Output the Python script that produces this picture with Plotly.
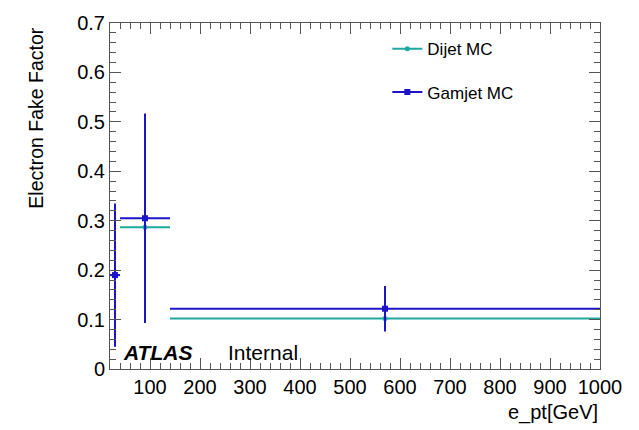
import plotly.graph_objects as go

# ---- data ----
bin_low = [20, 40, 140]
bin_high = [40, 140, 1000]
dijet_ff = [0.19, 0.287, 0.102]
dijet_err = [0.10, 0.12, 0.02]
gamjet_ff = [0.19, 0.305, 0.122]
gamjet_err = [0.145, 0.212, 0.046]
x_ticks = [100, 200, 300, 400, 500, 600, 700, 800, 900, 1000]

bin_center = [(lo + hi) / 2 for lo, hi in zip(bin_low, bin_high)]
bin_half = [(hi - lo) / 2 for lo, hi in zip(bin_low, bin_high)]

TEAL = "#1fa8a0"
BLUE = "#1c14c8"
FONT = "Liberation Sans"
AX = "#555555"

fig = go.Figure()

fig.add_trace(go.Scatter(
    x=bin_center, y=dijet_ff, mode="markers", showlegend=False,
    marker=dict(color=TEAL, size=5, symbol="circle"),
    error_x=dict(type="data", array=bin_half, color=TEAL, thickness=2, width=0),
    error_y=dict(type="data", array=dijet_err, color=TEAL, thickness=2, width=0),
))
fig.add_trace(go.Scatter(
    x=bin_center, y=gamjet_ff, mode="markers", showlegend=False,
    marker=dict(color=BLUE, size=6, symbol="square"),
    error_x=dict(type="data", array=bin_half, color=BLUE, thickness=2, width=0),
    error_y=dict(type="data", array=gamjet_err, color=BLUE, thickness=2, width=0),
))

# legend entries
fig.add_trace(go.Scatter(
    x=[None], y=[None], mode="lines+markers", name="Dijet MC", legendgroup="a",
    line=dict(color=TEAL, width=2), marker=dict(color=TEAL, size=5, symbol="circle"),
))
fig.add_trace(go.Scatter(
    x=[None], y=[None], mode="lines+markers", name="Gamjet MC", legendgroup="b",
    line=dict(color=BLUE, width=2), marker=dict(color=BLUE, size=6, symbol="square"),
))

axis_common = dict(
    showline=True, linecolor=AX, linewidth=1, mirror="allticks",
    ticks="inside", tickcolor=AX, showgrid=False, zeroline=False,
    tickfont=dict(family=FONT, size=20, color="black"),
)

fig.update_layout(
    width=639, height=430,
    margin=dict(l=110, r=39, t=14, b=61),
    paper_bgcolor="white", plot_bgcolor="white",
    font=dict(family=FONT, color="black"),
    xaxis=dict(range=[20, 1000], tickvals=x_ticks, ticklen=11,
               minor=dict(ticks="inside", ticklen=6, dtick=20, tick0=0, tickcolor=AX),
               **axis_common),
    yaxis=dict(range=[0, 0.7], dtick=0.1, tick0=0, ticklen=11,
               minor=dict(ticks="inside", ticklen=6, dtick=0.02, tick0=0, tickcolor=AX),
               **axis_common),
    legend=dict(x=0.566, y=0.976, xanchor="left", yanchor="top",
                bgcolor="rgba(0,0,0,0)", borderwidth=0,
                font=dict(family=FONT, size=17, color="black"),
                tracegroupgap=18),
    annotations=[
        dict(text="Electron Fake Factor", textangle=-90, xref="paper", yref="paper",
             x=-0.15, y=0.725, xanchor="center", yanchor="middle", showarrow=False,
             font=dict(family=FONT, size=19.5, color="black")),
        dict(text="e_pt[GeV]", xref="paper", yref="paper", x=1.0, y=-0.126,
             xanchor="right", yanchor="middle", showarrow=False,
             font=dict(family=FONT, size=20, color="black")),
        dict(text="<b><i>ATLAS</i></b>", xref="paper", yref="paper", x=0.022, y=0.048,
             xanchor="left", yanchor="middle", showarrow=False,
             font=dict(family=FONT, size=21, color="black")),
        dict(text="Internal", xref="paper", yref="paper", x=0.237, y=0.048,
             xanchor="left", yanchor="middle", showarrow=False,
             font=dict(family=FONT, size=21, color="black")),
    ],
)

fig.write_html("out.html")
